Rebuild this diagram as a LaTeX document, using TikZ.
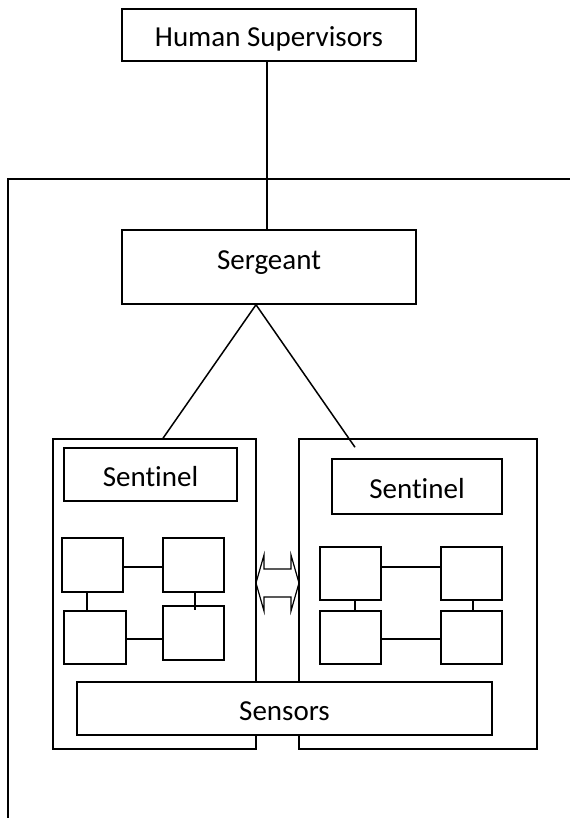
\documentclass[tikz,border=0pt]{standalone}
\usepackage{fontspec}
\setmainfont{Carlito}[Ligatures=NoCommon]
\begin{document}
\begin{tikzpicture}[x=1pt,y=-1pt,line width=1.5pt,
	box/.style={draw, rectangle, inner sep=0pt, text height=30pt, text depth=6pt, font=\fontsize{29}{34}\selectfont},
	cell/.style={draw, rectangle, inner sep=0pt, minimum width=61pt, minimum height=54pt},
	unit/.style={draw, rectangle, inner sep=0pt, minimum height=310pt}]

	\useasboundingbox (0,0) rectangle (570,818);

	% the outer frame
	\draw (8,818) -- (8,179) -- (570,179);

	\node[box, minimum width=294pt, minimum height=52pt] (hs) at (269,35) {Human Supervisors};
	\node[box, minimum width=294pt, minimum height=74pt, text height=22pt, text depth=18pt] (sgt) at (269,267) {Sergeant};

	\draw ([xshift=-2pt]hs.south) -- ([xshift=-2pt]sgt.north);

        % the two units
	\node[unit, minimum width=203pt] (lunit) at (154.5,594) {};
	\node[unit, minimum width=238pt] (runit) at (418,594) {};

	\coordinate (apex) at ([xshift=-13pt]sgt.south);
	\coordinate (rend) at ([shift={(-63pt,-9pt)}]runit.north);
	\draw ([xshift=8.5pt]lunit.north) -- (apex) -- (rend);

	\node[box, minimum width=173pt, minimum height=53pt] (lsent) at (150.5,474.5) {Sentinel};
	\node[box, minimum width=170pt, minimum height=55pt] (rsent) at (417,486.5) {Sentinel};

	% cells of the left unit
	\node[cell] (l1) at (92.5,565) {};
	\node[cell] (l2) at (193.5,565) {};
	\node[cell, minimum width=62pt, minimum height=53pt] (l3) at (95,637.5) {};
	\node[cell] (l4) at (193.5,633) {};

	\draw ([yshift=-2pt]l1.east) -- ([yshift=-2pt]l1.east -| l2.west);
	\draw ([yshift=-1.5pt]l3.east) -- ([yshift=-1.5pt]l3.east -| l4.west);
	\draw ([xshift=-5.5pt]l1.south) -- ([xshift=-5.5pt]l1.south |- l3.north);
	\draw ([xshift=1.5pt]l2.south) -- ([xshift=1.5pt]l2.south |- l4.north) -- ++(0,5);

	% cells of the right unit
	\node[cell, minimum height=53pt] (r1) at (350.5,573.5) {};
	\node[cell, minimum height=53pt] (r2) at (471.5,573.5) {};
	\node[cell, minimum height=53pt] (r3) at (350.5,637.5) {};
	\node[cell, minimum height=53pt] (r4) at (471.5,637.5) {};

	\draw ([yshift=6.5pt]r1.east) -- ([yshift=6.5pt]r1.east -| r2.west);
	\draw ([yshift=-1.5pt]r3.east) -- ([yshift=-1.5pt]r3.east -| r4.west);
	\draw ([xshift=4.5pt]r1.south) -- ([xshift=4.5pt]r1.south |- r3.north);
	\draw ([xshift=1.5pt]r2.south) -- ([xshift=1.5pt]r2.south |- r4.north);

	% block arrow between the units
	\coordinate (tip) at (256,583);
	\draw[line width=1.2pt] (tip) -- ++(8,-28) -- ++(0,14) -- ++(27,0) -- ++(0,-14) -- ++(8,28)
		-- ++(-8,28) -- ++(0,-14) -- ++(-27,0) -- ++(0,14) -- cycle;

	\node[box, fill=white, minimum width=415pt, minimum height=53pt] (sens) at (284.5,708.5) {Sensors};

\end{tikzpicture}
\end{document}
